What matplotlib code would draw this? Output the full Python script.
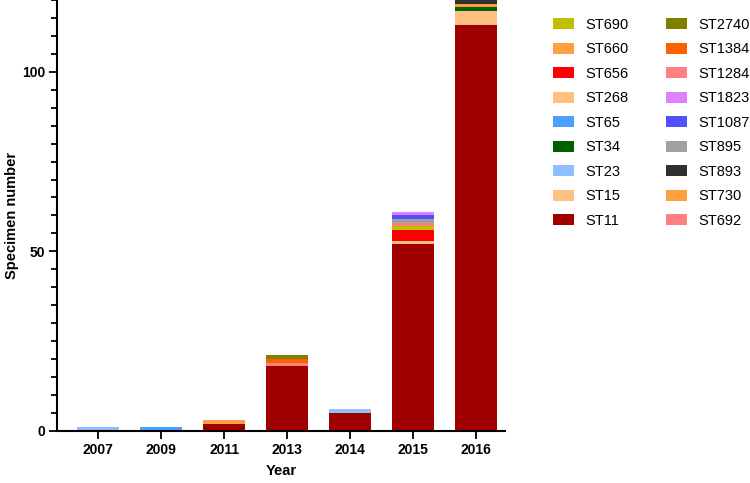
import matplotlib
matplotlib.use("Agg")
import matplotlib.pyplot as plt
from matplotlib.patches import Patch
from matplotlib.ticker import MultipleLocator
import numpy as np

plt.rcParams['font.family'] = ['Liberation Sans', 'DejaVu Sans']

years = ["2007", "2009", "2011", "2013", "2014", "2015", "2016"]

# stacking order (bottom to top)
st_names = ["ST11", "ST15", "ST23", "ST34", "ST65", "ST268", "ST656", "ST660", "ST690",
            "ST692", "ST730", "ST893", "ST895", "ST1087", "ST1823", "ST1284", "ST1384", "ST2740"]
st_colors = ["#A00000", "#FFC080", "#8FBFFF", "#006000", "#4F9FFF", "#FFC080", "#FF0000",
             "#FF9F40", "#C0C000", "#FF8080", "#FF9F40", "#303030", "#A0A0A0", "#5050FF",
             "#DF80FF", "#FF8080", "#FF6000", "#808000"]

ST11   = [0, 0, 2, 18, 5, 52, 113]
ST15   = [0, 0, 0, 0, 0, 0, 4]
ST23   = [1, 0, 0, 0, 1, 0, 0]
ST34   = [0, 0, 0, 0, 0, 0, 1]
ST65   = [0, 1, 0, 0, 0, 0, 0]
ST268  = [0, 0, 0, 0, 0, 1, 0]
ST656  = [0, 0, 0, 0, 0, 3, 0]
ST660  = [0, 0, 0, 0, 0, 0, 1]
ST690  = [0, 0, 0, 0, 0, 1, 0]
ST692  = [0, 0, 0, 0, 0, 1, 0]
ST730  = [0, 0, 1, 0, 0, 0, 0]
ST893  = [0, 0, 0, 0, 0, 0, 1]
ST895  = [0, 0, 0, 0, 0, 1, 0]
ST1087 = [0, 0, 0, 0, 0, 1, 0]
ST1823 = [0, 0, 0, 0, 0, 1, 0]
ST1284 = [0, 0, 0, 1, 0, 0, 0]
ST1384 = [0, 0, 0, 1, 0, 0, 0]
ST2740 = [0, 0, 0, 1, 0, 0, 0]

series = [ST11, ST15, ST23, ST34, ST65, ST268, ST656, ST660, ST690,
          ST692, ST730, ST893, ST895, ST1087, ST1823, ST1284, ST1384, ST2740]

legend_order = ["ST690", "ST660", "ST656", "ST268", "ST65", "ST34", "ST23", "ST15", "ST11",
                "ST2740", "ST1384", "ST1284", "ST1823", "ST1087", "ST895", "ST893", "ST730", "ST692"]

fig = plt.figure(figsize=(7.5, 4.83), dpi=100)
ax = fig.add_axes([0.076, 0.108, 0.597, 0.892])

x = np.arange(len(years))
bottom = np.zeros(len(years))
for name, col, vals in zip(st_names, st_colors, series):
    v = np.array(vals, dtype=float)
    ax.bar(x, v, bottom=bottom, width=0.67, color=col, edgecolor='none', label=name)
    bottom += v

ax.set_xlim(-0.65, 6.45)
ax.set_ylim(0, 120)
ax.set_xticks(x)
ax.set_xticklabels(years, fontsize=10, fontweight='bold')
ax.yaxis.set_major_locator(MultipleLocator(50))
ax.yaxis.set_minor_locator(MultipleLocator(5))
for lab in ax.get_yticklabels():
    lab.set_fontweight('bold')
    lab.set_fontsize(10)
ax.tick_params(axis='both', which='major', length=6, width=1.3, pad=2.5)
ax.tick_params(axis='y', which='minor', length=4, width=1.3)
for s in ['top', 'right']:
    ax.spines[s].set_visible(False)
for s in ['left', 'bottom']:
    ax.spines[s].set_linewidth(1.5)

ax.set_xlabel("Year", fontsize=10.5, fontweight='bold')
ax.set_ylabel("Specimen number", fontsize=10.5, fontweight='bold')
ax.yaxis.set_label_coords(-0.085, 0.5)
ax.xaxis.set_label_coords(0.5, -0.077)

cmap = dict(zip(st_names, st_colors))
handles = [Patch(facecolor=cmap[n], edgecolor='none') for n in legend_order]
fig.legend(handles, legend_order, loc='upper left', bbox_to_anchor=(0.72, 0.99),
           ncol=2, frameon=False, fontsize=10.5, handlelength=1.4, handleheight=0.8,
           labelspacing=0.72, columnspacing=2.6, handletextpad=0.8)

fig.savefig("out.png", dpi=100)
